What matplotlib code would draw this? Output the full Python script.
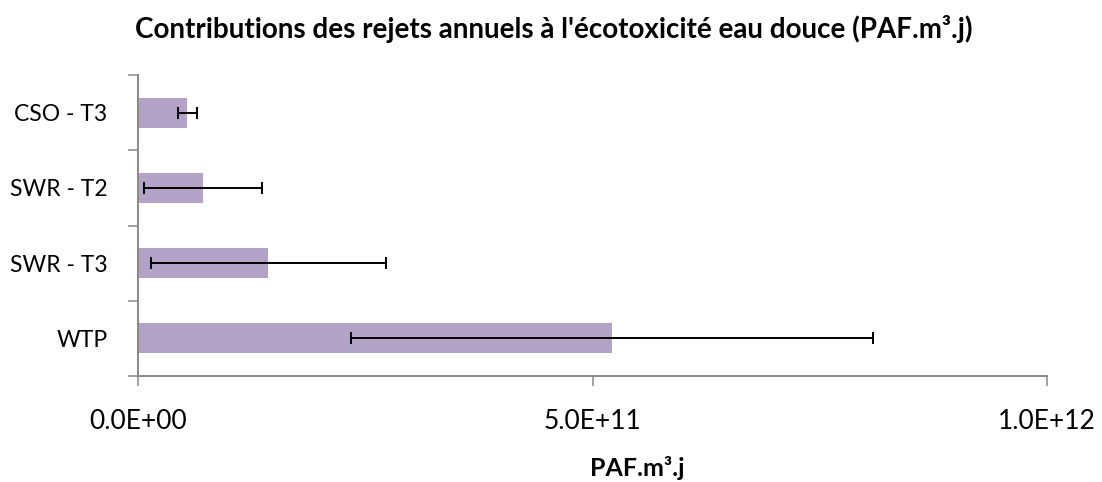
import numpy as np
import matplotlib.pyplot as plt

categories = ['WTP', 'SWR - T3', 'SWR - T2', 'CSO - T3']
values = [5.215e11, 1.434e11, 0.718e11, 0.542e11]
errors = [2.87e11, 1.29e11, 0.648e11, 0.103e11]
xticks = [0, 5e11, 1e12]
xticklabels = ['0.0E+00', '5.0E+11', '1.0E+12']

plt.rcParams['font.family'] = ['Lato', 'DejaVu Sans']
grey = '#898989'
W, H = 1102, 482

fig = plt.figure(figsize=(W / 100, H / 100), dpi=100)
ax = fig.add_axes([138 / W, 106 / H, 909 / W, 301 / H])

y = np.arange(len(categories))
ax.barh(y, values, height=0.4, color='#B3A2C7', zorder=2)
ax.errorbar(values, y, xerr=errors, fmt='none', ecolor='black',
            elinewidth=1.4, capsize=4.3, capthick=1.4, zorder=3)

ax.set_xlim(0, 1e12)
ax.set_ylim(-0.5, len(categories) - 0.5)

ax.set_xticks(xticks)
ax.set_xticklabels(xticklabels, fontsize=19)
ax.set_yticks(y)
ax.set_yticklabels(categories, fontsize=16.5)
# category separators on the value axis
ax.set_yticks(np.arange(len(categories) + 1) - 0.5, minor=True)
ax.tick_params(axis='y', which='major', length=0, pad=22)
ax.tick_params(axis='y', which='minor', length=7, width=1.1, color=grey)
ax.tick_params(axis='x', length=7, width=1.1, color=grey, pad=17)

for side in ['top', 'right']:
    ax.spines[side].set_visible(False)
for side in ['left', 'bottom']:
    ax.spines[side].set_color(grey)
    ax.spines[side].set_linewidth(1.4)

ax.set_xlabel('PAF.m³.j', fontsize=18, fontweight='bold')
ax.xaxis.label.set_va('baseline')
ax.xaxis.set_label_coords((637 - 138) / 909, (376 - 476) / 301)

fig.text(553.5 / W, 1 - 38 / H,
         "Contributions des rejets annuels à l'écotoxicité eau douce (PAF.m³.j)",
         ha='center', va='baseline', fontsize=20, fontweight='bold')

fig.savefig('out.png', dpi=100)
